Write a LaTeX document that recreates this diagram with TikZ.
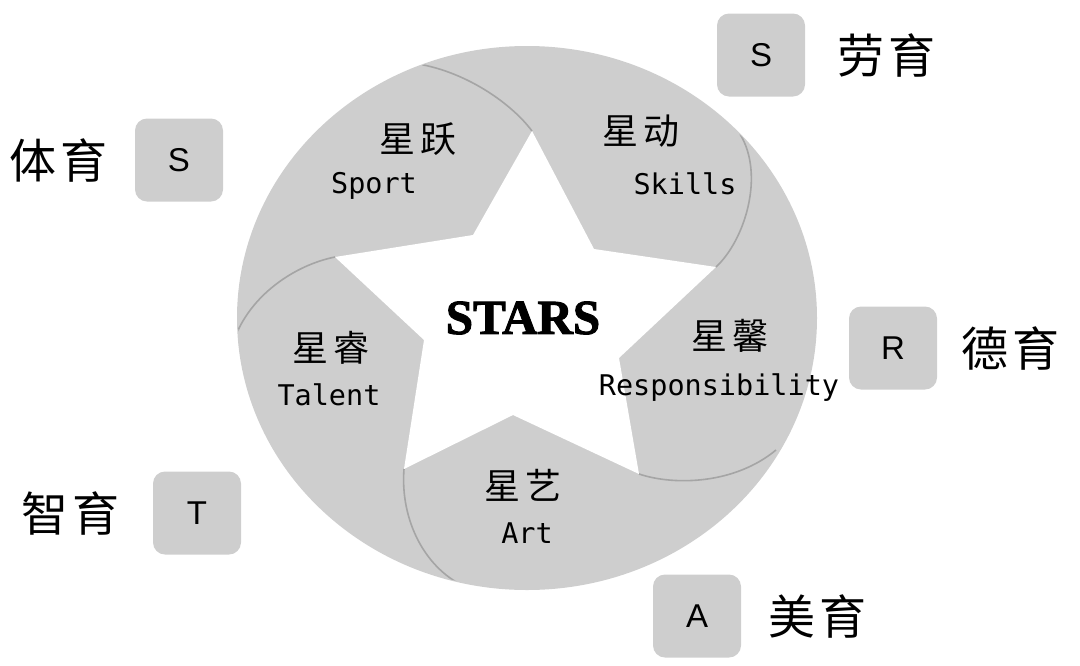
\documentclass[tikz,border=0pt]{standalone}
\usepackage{fontspec}
\setmainfont{Liberation Serif}
\newfontfamily\cjk{Noto Sans CJK SC}
\newfontfamily\monofont{DejaVu Sans Mono}
\newfontfamily\tagfont{Liberation Sans}
\newfontfamily\starfont[FakeBold=2]{Liberation Serif Bold}
\usetikzlibrary{positioning}
\definecolor{petalgray}{RGB}{206,206,206}
\definecolor{seamgray}{RGB}{165,165,165}
\tikzset{tag/.style={fill=petalgray,rounded corners=12pt,minimum width=88pt,minimum height=83pt,font=\tagfont\fontsize{33}{33}\selectfont},edu/.style={inner sep=0pt,font=\cjk\fontsize{47}{47}\selectfont},petal/.style={inner sep=0pt,font=\cjk\fontsize{36}{36}\selectfont},gloss/.style={inner sep=0pt,font=\monofont\fontsize{28.5}{28.5}\selectfont},seam/.style={draw=seamgray,line width=1.6pt}}
\begin{document}
\begin{tikzpicture}[x=1pt,y=-1pt]
\useasboundingbox (0,0) rectangle (1080,665);
% star points
\coordinate (tipN) at (532,131); \coordinate (inNE) at (594,249);
\coordinate (tipE) at (716,267); \coordinate (inSE) at (619,358);
\coordinate (tipSE) at (639,474); \coordinate (inS) at (513,415);
\coordinate (tipSW) at (404,469); \coordinate (inW) at (424,340);
\coordinate (tipW) at (335,257); \coordinate (inNW) at (473,235);
\fill[petalgray] (527,318) ellipse [x radius=290,y radius=272];
\fill[white] (tipN)--(inNE)--(tipE)--(inSE)--(tipSE)--(inS)--(tipSW)--(inW)--(tipW)--(inNW)--cycle;
\begin{scope}
\clip (527,318) ellipse [x radius=289,y radius=271];
\draw[seam] (tipN) .. controls (512,104) and (465,70) .. (412,63);
\draw[seam] (tipE) .. controls (745,240) and (765,175) .. (740,134);
\draw[seam] (tipSE) .. controls (675,486) and (735,484) .. (776,450);
\draw[seam] (tipSW) .. controls (400,520) and (425,570) .. (468,588);
\draw[seam] (tipW) .. controls (295,265) and (250,295) .. (234,340);
\end{scope}
% petal labels
\node[petal] (xingyue) at (418,139) {星\hspace{5pt}跃};
\node[gloss] (sport) at (374,186) {Sport};
\node[petal] (xingdong) at (641,131) {星\hspace{5pt}动};
\node[gloss] (skills) at (685,184) {Skills};
\node[petal] (xingxin) at (730,336) {星\hspace{5pt}馨};
\node[gloss] (resp) at (719,388) {Responsibility};
\node[petal] (xingyi) at (523,485) {星\hspace{5pt}艺};
\node[gloss] (art) at (527,533) {Art};
\node[petal] (xingrui) at (331,348) {星\hspace{5pt}睿};
\node[gloss] (talent) at (329,395) {Talent};
\node[font=\starfont\fontsize{49}{49}\selectfont] (stars) at (523,318) {STARS};
% outer tags
\node[tag] (tagPE) at (179,160) {S};
\node[edu,left=27pt of tagPE] (tiyu) {体\hspace{4pt}育};
\node[tag] (tagLE) at (761,55) {S};
\node[edu,right=32pt of tagLE] (laoyu) {劳\hspace{4pt}育};
\node[tag] (tagME) at (893,348) {R};
\node[edu,right=24pt of tagME] (deyu) {德\hspace{4pt}育};
\node[tag] (tagIE) at (197,513) {T};
\node[edu,left=33pt of tagIE] (zhiyu) {智\hspace{4pt}育};
\node[tag] (tagAE) at (697,616) {A};
\node[edu,right=27pt of tagAE] (meiyu) {美\hspace{4pt}育};
\end{tikzpicture}
\end{document}
